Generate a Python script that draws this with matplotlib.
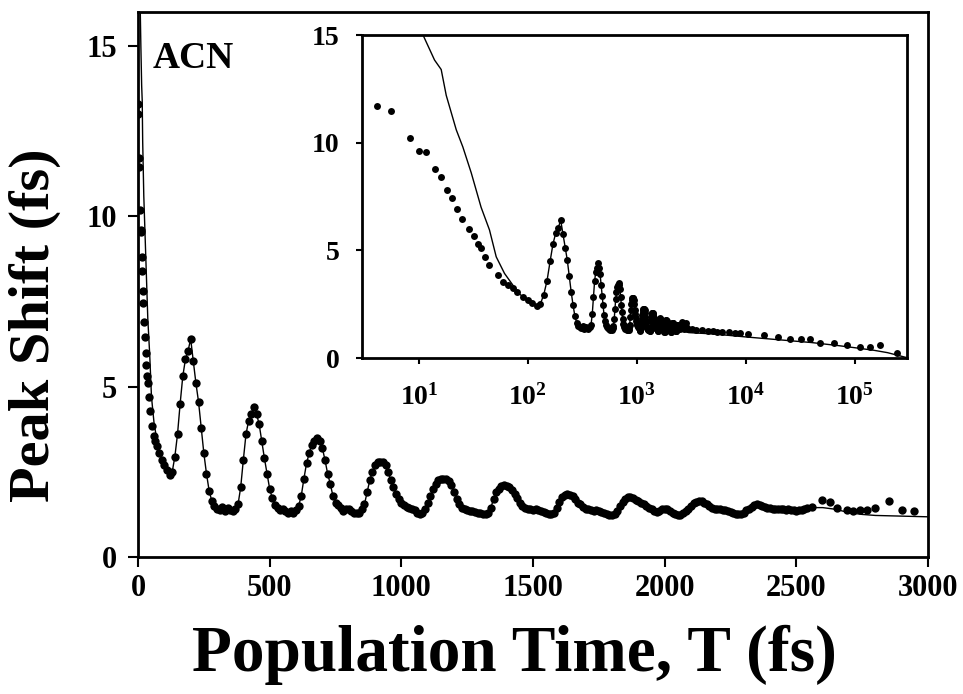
import numpy as np
import matplotlib
matplotlib.use("Agg")
import matplotlib.pyplot as plt
from matplotlib.ticker import FixedLocator, FixedFormatter, NullLocator

plt.rcParams['font.family'] = 'Liberation Serif'
plt.rcParams['font.weight'] = 'bold'
plt.rcParams['mathtext.fontset'] = 'custom'
plt.rcParams['mathtext.rm'] = 'Liberation Serif:bold'
plt.rcParams['mathtext.bf'] = 'Liberation Serif:bold'
plt.rcParams['mathtext.it'] = 'Liberation Serif:bold:italic'

# ---- data (fs) ----
# early points, fine sampling
early_t = [0, 1, 4.1, 5.5, 8.2, 10.1, 11.7, 14.1, 16, 18.1, 20.2, 22.5, 25,
           28.8, 31.7, 34.8, 37.3, 40, 44.4, 53, 58.9, 65, 72.7]
early_shift = [13.3, 13.0, 11.7, 11.45, 10.2, 9.6, 9.55, 8.8, 8.4, 7.8, 7.45,
               6.9, 6.45, 6.0, 5.65, 5.3, 5.1, 4.7, 4.3, 3.85, 3.55, 3.4, 3.25]

# regular 10 fs sampling, 80 .. 2540 fs
grid_t = np.arange(80, 2550, 10)
grid_shift = [
    3.05, 2.85,
    2.7, 2.55, 2.4, 2.5, 2.95, 3.6, 4.5, 5.3, 5.8, 6.05,        # 100
    6.4, 5.75, 5.1, 4.55, 3.8, 3.05, 2.45, 1.95, 1.65, 1.5,     # 200
    1.42, 1.38, 1.48, 1.35, 1.45, 1.38, 1.35, 1.42, 1.55, 2.05, # 300
    2.85, 3.6, 4.0, 4.2, 4.4, 4.2, 3.9, 3.4, 2.9, 2.45,         # 400
    2.0, 1.72, 1.52, 1.45, 1.38, 1.4, 1.35, 1.3, 1.35, 1.3,     # 500
    1.38, 1.5, 1.8, 2.3, 2.75, 3.05, 3.3, 3.4, 3.48, 3.4,       # 600
    3.2, 2.85, 2.45, 2.15, 1.8, 1.6, 1.52, 1.45, 1.35, 1.4,     # 700
    1.42, 1.35, 1.3, 1.28, 1.3, 1.4, 1.55, 1.9, 2.25, 2.5,      # 800
    2.7, 2.78, 2.8, 2.78, 2.7, 2.5, 2.25, 2.05, 1.85, 1.7,      # 900
    1.6, 1.52, 1.47, 1.45, 1.4, 1.38, 1.3, 1.27, 1.3, 1.42,     # 1000
    1.6, 1.78, 2.0, 2.15, 2.25, 2.3, 2.3, 2.28, 2.22, 2.1,      # 1100
    1.9, 1.7, 1.55, 1.45, 1.4, 1.38, 1.35, 1.35, 1.32, 1.3,     # 1200
    1.28, 1.27, 1.25, 1.3, 1.45, 1.7, 1.9, 2.0, 2.08, 2.1,      # 1300
    2.08, 2.05, 1.98, 1.85, 1.72, 1.6, 1.5, 1.45, 1.42, 1.4,    # 1400
    1.38, 1.4, 1.38, 1.35, 1.33, 1.3, 1.26, 1.25, 1.3, 1.45,    # 1500
    1.62, 1.75, 1.82, 1.85, 1.82, 1.78, 1.7, 1.6, 1.55, 1.48,   # 1600
    1.42, 1.4, 1.38, 1.35, 1.38, 1.35, 1.32, 1.3, 1.25, 1.22,   # 1700
    1.22, 1.25, 1.35, 1.5, 1.62, 1.7, 1.75, 1.75, 1.72, 1.68,   # 1800
    1.65, 1.6, 1.55, 1.5, 1.45, 1.4, 1.35, 1.32, 1.35, 1.4,     # 1900
    1.42, 1.4, 1.35, 1.3, 1.25, 1.22, 1.22, 1.28, 1.35, 1.42,   # 2000
    1.5, 1.58, 1.62, 1.65, 1.65, 1.6, 1.55, 1.5, 1.45, 1.42,    # 2100
    1.4, 1.4, 1.38, 1.38, 1.35, 1.32, 1.3, 1.27, 1.25, 1.25,    # 2200
    1.3, 1.38, 1.42, 1.48, 1.52, 1.55, 1.52, 1.5, 1.48, 1.45,   # 2300
    1.45, 1.42, 1.42, 1.4, 1.42, 1.4, 1.38, 1.4, 1.38, 1.38,    # 2400
    1.35, 1.38, 1.38, 1.4, 1.45,                                # 2500
]

# sparse points at the end of the main scan
late_t = [2559, 2597, 2628, 2653, 2691, 2716, 2741, 2767, 2799, 2850, 2900, 2945]
late_shift = [1.47, 1.67, 1.62, 1.43, 1.38, 1.36, 1.38, 1.38, 1.43, 1.64, 1.38, 1.36]

# long time points (only seen in the log inset)
long_t = [3200, 3500, 4000, 4500, 5000, 5500, 6000, 7000, 8000, 8900, 10500,
          14700, 19600, 25700, 31900, 39100, 48000, 64000, 85000, 112000,
          139000, 171000, 245000]
long_shift = [1.35, 1.3, 1.3, 1.25, 1.25, 1.22, 1.2, 1.2, 1.17, 1.15, 1.1,
              1.07, 0.99, 0.88, 0.88, 0.88, 0.68, 0.68, 0.6, 0.52, 0.52, 0.6, 0.22]

# fit curve (solid line); between 80 and 2540 fs it runs on the data
fit_early_t = [0, 5, 8.2, 10.9, 13.9, 16, 17.8, 22, 25.3, 30.2, 37.2, 44.4,
               51.2, 61, 72.7]
fit_early = [20, 17.8, 16.2, 15, 13.84, 13.4, 12.2, 10.6, 9.8, 8.6, 7.0, 5.95,
             4.7, 3.93, 3.39]
fit_late_t = [2600, 2650, 2700, 2750, 2800, 2900, 3000, 5000, 10000, 20000,
              40000, 70000, 100000, 150000, 200000, 260000, 300000]
fit_late = [1.45, 1.4, 1.3, 1.25, 1.22, 1.2, 1.18, 1.12, 0.98, 0.85, 0.72,
            0.58, 0.48, 0.36, 0.25, 0.1, 0.02]

t_all = np.concatenate([early_t, grid_t, late_t, long_t])
shift_all = np.concatenate([early_shift, grid_shift, late_shift, long_shift])
fit_t = np.concatenate([fit_early_t, grid_t, fit_late_t])
fit_shift = np.concatenate([fit_early, grid_shift, fit_late])

fig = plt.figure(figsize=(9.63, 6.94), dpi=100)

# ---- main panel ----
ax = fig.add_axes([0.1433, 0.1974, 0.8204, 0.7853])
ax.plot(fit_t, fit_shift, color='black', lw=1.0)
ax.plot(t_all, shift_all, 'o', color='black', ms=6, mew=0)
ax.set_xlim(0, 3000)
ax.set_ylim(0, 16)
ax.set_xticks([0, 500, 1000, 1500, 2000, 2500, 3000])
ax.set_yticks([0, 5, 10, 15])
ax.tick_params(direction='out', length=7, width=1.5, labelsize=22)
ax.tick_params(axis='x', pad=5)
ax.tick_params(axis='y', pad=8)
for s in ax.spines.values():
    s.set_linewidth(2)
ax.set_xlabel('Population Time, T (fs)', fontsize=47, fontweight='bold')
ax.set_ylabel('Peak Shift (fs)', fontsize=42, fontweight='bold')
ax.xaxis.set_label_coords(0.476, -0.125)
ax.yaxis.set_label_coords(-0.097, 0.426)
ax.text(0.018, 0.897, 'ACN', transform=ax.transAxes, fontsize=27,
        fontweight='bold', va='baseline')

# ---- inset, log time axis ----
ins = fig.add_axes([0.3759, 0.4841, 0.5656, 0.4654])
ins.plot(fit_t, fit_shift, color='black', lw=1.0)
ins.plot(t_all, shift_all, 'o', color='black', ms=5, mew=0)
ins.set_xscale('log')
ins.set_xlim(3, 3e5)
ins.set_ylim(0, 15)
ins.set_yticks([0, 5, 10, 15])
decades = [1, 2, 3, 4, 5]
ins.xaxis.set_major_locator(FixedLocator([10.0 ** d for d in decades]))
ins.xaxis.set_major_formatter(FixedFormatter([r'$\mathrm{10^{%d}}$' % d for d in decades]))
ins.xaxis.set_minor_locator(NullLocator())
ins.tick_params(direction='out', length=4, width=1.5, labelsize=20)
ins.tick_params(axis='x', pad=15)
ins.tick_params(axis='y', pad=12)
for s in ins.spines.values():
    s.set_linewidth(2)

fig.savefig('out.png', dpi=100)
